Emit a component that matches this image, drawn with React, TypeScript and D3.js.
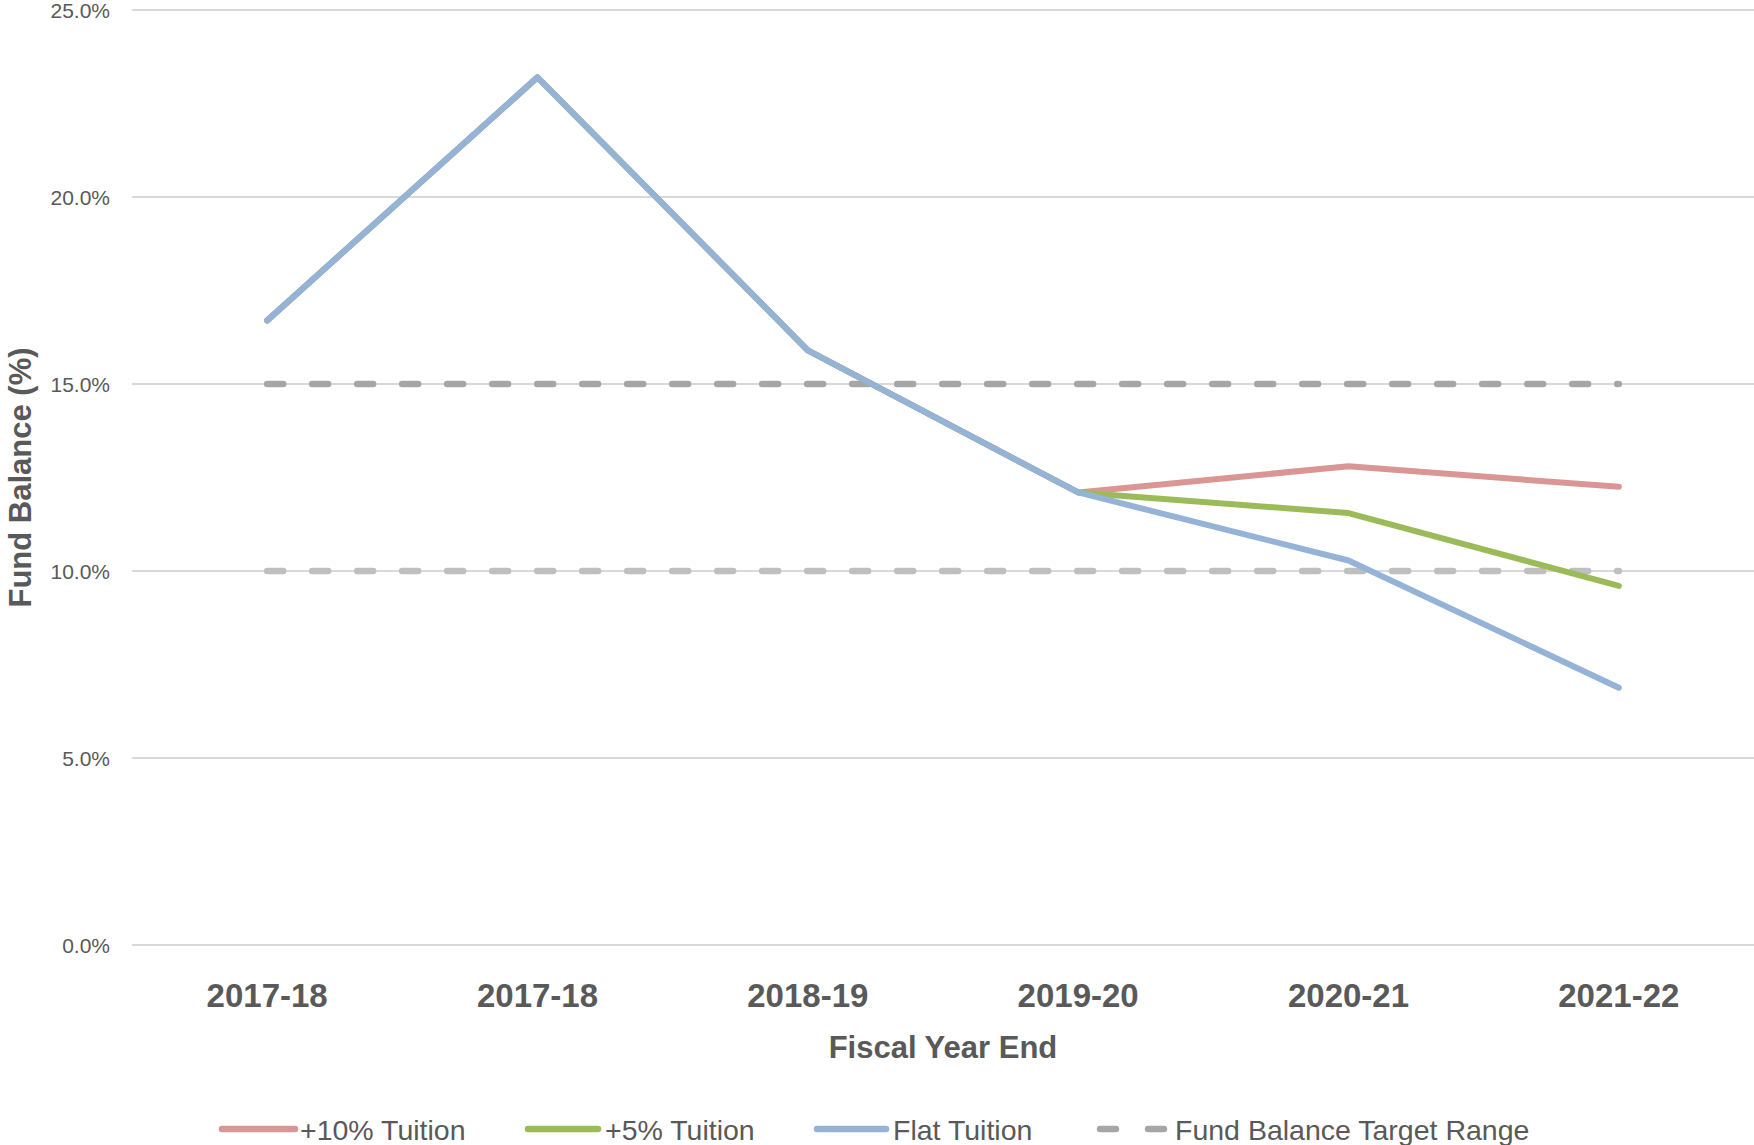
import React from "react";
import * as d3 from "d3";

const categories = ["2017-18a", "2017-18b", "2018-19", "2019-20", "2020-21", "2021-22"];
const categoryLabels = ["2017-18", "2017-18", "2018-19", "2019-20", "2020-21", "2021-22"];
const tuition10 = [16.7, 23.2, 15.9, 12.1, 12.8, 12.25];
const tuition5 = [16.7, 23.2, 15.9, 12.1, 11.55, 9.6];
const flatTuition = [16.7, 23.2, 15.9, 12.1, 10.28, 6.88];
const targetHigh = [15, 15, 15, 15, 15, 15];
const targetLow = [10, 10, 10, 10, 10, 10];
const yTicks = [0, 5, 10, 15, 20, 25];

const W = 1754;
const H = 1145;
const left = 132;
const right = 1754;
const top = 10;
const bottom = 945;
const textColor = "#595959";
const font = "'Liberation Sans', Arial, sans-serif";

const series = [
  { name: "+10% Tuition", values: tuition10, color: "#DA9694" },
  { name: "+5% Tuition", values: tuition5, color: "#9BBB59" },
  { name: "Flat Tuition", values: flatTuition, color: "#95B3D7" },
];

export default function App() {
  const x = d3.scalePoint<string>().domain(categories).range([left, right]).padding(0.5);
  const y = d3.scaleLinear().domain([0, 25]).range([bottom, top]);
  const line = d3
    .line<number>()
    .x((_, i) => x(categories[i]) as number)
    .y((d) => y(d));

  const legendItems = [
    { name: "+10% Tuition", color: "#DA9694", x0: 222, x1: 295, tx: 300, dashed: false },
    { name: "+5% Tuition", color: "#9BBB59", x0: 528, x1: 598, tx: 605, dashed: false },
    { name: "Flat Tuition", color: "#95B3D7", x0: 817, x1: 886, tx: 893, dashed: false },
    { name: "Fund Balance Target Range", color: "#A6A6A6", x0: 1100, x1: 1164, tx: 1175, dashed: true },
  ];

  return (
    <div style={{ position: "absolute", left: 0, top: 0 }}>
      <svg width={W} height={H} style={{ display: "block", background: "#fff" }} fontFamily={font}>
        {yTicks.map((t) => (
          <g key={t}>
            <line x1={left} x2={right} y1={y(t)} y2={y(t)} stroke="#D9D9D9" strokeWidth={2} />
            <text x={110} y={y(t)} dy="0.36em" textAnchor="end" fontSize={21} fill={textColor}>
              {t.toFixed(1) + "%"}
            </text>
          </g>
        ))}
        <path d={line(targetHigh) || ""} fill="none" stroke="#A6A6A6" strokeWidth={6.5} strokeDasharray="16 29" strokeLinecap="round" />
        <path d={line(targetLow) || ""} fill="none" stroke="#BFBFBF" strokeWidth={6.5} strokeDasharray="16 29" strokeLinecap="round" />
        {series.map((s) => (
          <path key={s.name} d={line(s.values) || ""} fill="none" stroke={s.color} strokeWidth={6} strokeLinecap="round" strokeLinejoin="round" />
        ))}
        {categories.map((c, i) => (
          <text key={c} x={x(c)} y={1007} textAnchor="middle" fontSize={33} fontWeight="bold" fill={textColor}>
            {categoryLabels[i]}
          </text>
        ))}
        <text x={(left + right) / 2} y={1058} textAnchor="middle" fontSize={31} fontWeight="bold" fill={textColor}>
          Fiscal Year End
        </text>
        <text
          transform={`translate(31, ${(top + bottom) / 2}) rotate(-90)`}
          textAnchor="middle"
          fontSize={31}
          fontWeight="bold"
          fill={textColor}
        >
          Fund Balance (%)
        </text>
        {legendItems.map((l) => (
          <g key={l.name}>
            <line
              x1={l.x0}
              x2={l.x1}
              y1={1129}
              y2={1129}
              stroke={l.color}
              strokeWidth={6.5}
              strokeLinecap="round"
              strokeDasharray={l.dashed ? "16 32" : undefined}
            />
            <text x={l.tx} y={1140} fontSize={28.5} fill={textColor}>
              {l.name}
            </text>
          </g>
        ))}
      </svg>
    </div>
  );
}
